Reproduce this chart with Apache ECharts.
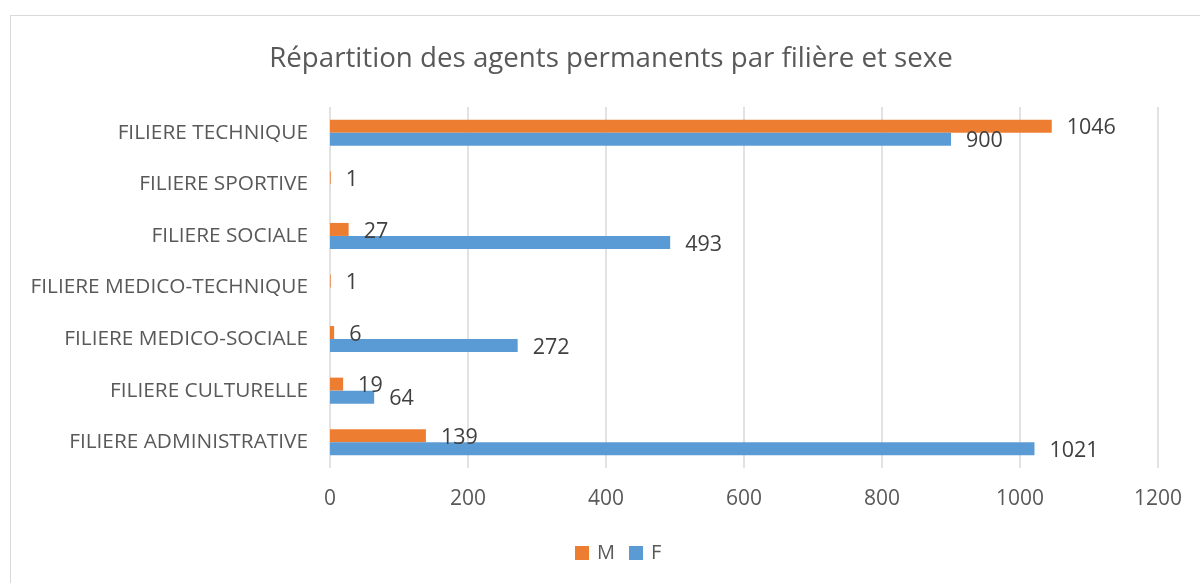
<!DOCTYPE html>
<html>
<head>
<meta charset="utf-8">
<script src="https://cdn.jsdelivr.net/npm/echarts@6/dist/echarts.min.js"></script>
<style>
  html, body { margin: 0; padding: 0; background: #fff; }
  #frame { position: absolute; left: 10px; top: 15px; width: 1200px; height: 600px; border: 1px solid #d9d9d9; box-sizing: border-box; }
  #chart { position: absolute; left: 0; top: 0; width: 1200px; height: 583px; }
</style>
</head>
<body>
<div id="frame"></div>
<div id="chart"></div>
<script>
// categories, bottom to top as on the axis
const categories = [
  'FILIERE ADMINISTRATIVE',
  'FILIERE CULTURELLE',
  'FILIERE MEDICO-SOCIALE',
  'FILIERE MEDICO-TECHNIQUE',
  'FILIERE SOCIALE',
  'FILIERE SPORTIVE',
  'FILIERE TECHNIQUE'
];
const valuesM = [139, 19, 6, 1, 27, 1, 1046];
const valuesF = [1021, 64, 272, '-', 493, '-', 900];
const xTicks = { min: 0, max: 1200, interval: 200 };

const FONT = '"Open Sans", "Noto Sans", sans-serif';

let myChart = echarts.init(document.getElementById('chart'));
let labelStyle = {
  show: true,
  position: 'right',
  distance: 15,
  offset: [0, 2],
  color: '#404040',
  fontSize: 21.5,
  fontFamily: FONT
};
myChart.setOption({
  animation: false,
  title: {
    text: 'Répartition des agents permanents par filière et sexe',
    left: 606,
    textAlign: 'center',
    top: 40,
    textStyle: { color: '#595959', fontSize: 27.7, fontWeight: 'normal', fontFamily: FONT }
  },
  legend: {
    bottom: 15,
    left: 570,
    itemWidth: 14,
    itemHeight: 14,
    itemGap: 14,
    icon: 'rect',
    textStyle: { color: '#595959', fontSize: 20, fontFamily: FONT, padding: [0, 0, 0, 3] },
    data: ['M', 'F']
  },
  grid: { left: 330, right: 42, top: 107, bottom: 115, containLabel: false },
  xAxis: {
    type: 'value',
    min: xTicks.min,
    max: xTicks.max,
    interval: xTicks.interval,
    axisLine: { show: false },
    axisTick: { show: false },
    axisLabel: { color: '#595959', fontSize: 21, fontFamily: FONT, margin: 21, formatter: v => String(v) },
    splitLine: { lineStyle: { color: '#d9d9d9', width: 1.5 } }
  },
  yAxis: {
    type: 'category',
    data: categories,
    axisLine: { show: false },
    axisTick: { show: false },
    axisLabel: { color: '#595959', fontSize: 20.8, fontFamily: FONT, margin: 22 }
  },
  series: [
    {
      name: 'M',
      type: 'bar',
      data: valuesM,
      barWidth: 13,
      barGap: '0%',
      itemStyle: { color: '#ED7D31' },
      label: labelStyle
    },
    {
      name: 'F',
      type: 'bar',
      data: valuesF,
      barWidth: 13,
      barGap: '0%',
      itemStyle: { color: '#5B9BD5' },
      label: labelStyle
    }
  ]
});
</script>
</body>
</html>
